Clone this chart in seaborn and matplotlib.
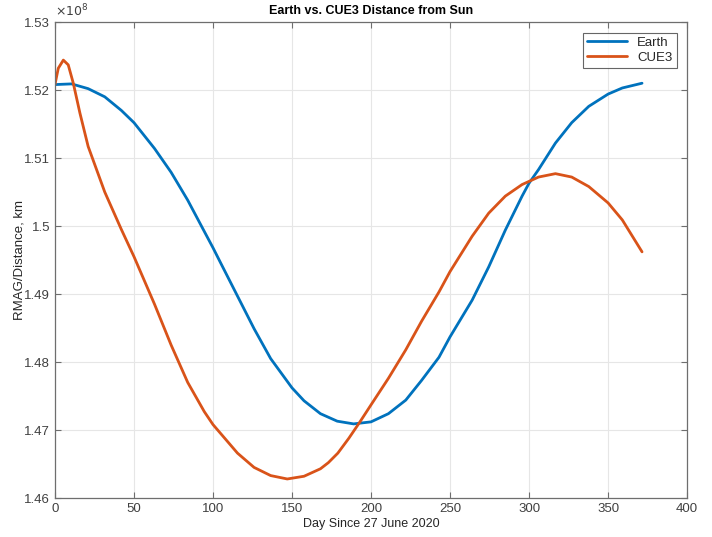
import numpy as np
import pandas as pd
import matplotlib
matplotlib.use("Agg")
import matplotlib.pyplot as plt
import seaborn as sns
from matplotlib.ticker import FuncFormatter

# values (distance in units of 1e8 km)
earth_day = [0, 10.5, 21, 31.5, 42, 50, 63, 73.5, 84, 94.5, 100, 105, 115.5, 126,
             136.5, 150, 157.6, 168, 178.6, 189, 200, 211, 222, 232, 243, 250, 264,
             274.5, 285, 295.6, 300, 306, 316.7, 327, 337.8, 350, 359, 371.5]
earth_dist = [1.5208, 1.5209, 1.5202, 1.5190, 1.5170, 1.5152, 1.5114, 1.5079, 1.5038,
              1.4992, 1.4968, 1.4945, 1.4897, 1.4849, 1.4805, 1.4762, 1.4743, 1.4724,
              1.4713, 1.4709, 1.4712, 1.4724, 1.4744, 1.4773, 1.4807, 1.4837, 1.4891,
              1.4940, 1.4994, 1.5044, 1.5063, 1.5083, 1.5122, 1.5152, 1.5176, 1.5194,
              1.5203, 1.5210]

cue3_day = [0, 2.1, 5.3, 8.4, 11.6, 15.8, 21, 31.5, 42, 50, 63, 73.5, 84, 94.5, 100,
            115.5, 126, 136.5, 147, 157.6, 168, 173, 179, 186, 193, 200, 211, 222, 232,
            243, 250, 264, 274.5, 285, 295.6, 306, 316.7, 327, 337.8, 350, 359, 371.5]
cue3_dist = [1.5208, 1.5232, 1.5244, 1.5237, 1.5210, 1.5166, 1.5117, 1.5050, 1.4995,
             1.4955, 1.4885, 1.4825, 1.4770, 1.4727, 1.4708, 1.4666, 1.4645, 1.4633,
             1.4628, 1.4632, 1.4643, 1.4652, 1.4666, 1.4688, 1.4712, 1.4737, 1.4776,
             1.4818, 1.4860, 1.4903, 1.4933, 1.4985, 1.5019, 1.5044, 1.5061, 1.5072,
             1.5077, 1.5072, 1.5058, 1.5034, 1.5009, 1.4962]

df = pd.concat([
    pd.DataFrame({"day": earth_day, "dist": earth_dist, "body": "Earth"}),
    pd.DataFrame({"day": cue3_day, "dist": cue3_dist, "body": "CUE3"}),
])

sns.set_theme(style="white")
plt.rcParams["font.family"] = ["Liberation Sans", "DejaVu Sans"]

fig = plt.figure(figsize=(7.12, 5.37), dpi=100)
ax = fig.add_axes([0.0772, 0.0726, 0.8878, 0.8864])

sns.lineplot(data=df, x="day", y="dist", hue="body", sort=False, estimator=None,
             palette={"Earth": "#0072BD", "CUE3": "#D95319"}, linewidth=2.0, ax=ax)

ax.set_xlim(0, 400)
ax.set_ylim(1.46, 1.53)
ax.set_xticks(np.arange(0, 401, 50))
ax.set_yticks(np.arange(1.46, 1.5301, 0.01))
ax.yaxis.set_major_formatter(FuncFormatter(lambda v, p: "%g" % round(v, 2)))

ax.grid(True, color="#e6e6e6", linewidth=0.8)
for s in ax.spines.values():
    s.set_color("#6e6e6e")
    s.set_linewidth(0.9)
    s.set_visible(True)
ax.tick_params(direction="in", length=4, width=0.8, color="#6e6e6e",
               labelsize=9.5, labelcolor="#404040", top=True, right=True,
               bottom=True, left=True)

ax.set_xlabel("Day Since 27 June 2020", fontsize=9, color="#262626", labelpad=2)
ax.set_ylabel("RMAG/Distance, km", fontsize=9.5, color="#262626")
ax.yaxis.set_label_coords(-0.047, 0.5)
ax.set_title("Earth vs. CUE3 Distance from Sun", fontsize=9, fontweight="bold",
             color="#000000", pad=6)
ax.text(0.0, 1.005, r"$\times10^{8}$", transform=ax.transAxes, fontsize=9,
        color="#404040", ha="left", va="bottom")

leg = ax.legend(loc="upper right", fontsize=9.5, frameon=True, fancybox=False,
                borderaxespad=0.8, handlelength=3.0, borderpad=0.3,
                labelspacing=0.2)
leg.get_frame().set_edgecolor("#404040")
leg.get_frame().set_linewidth(0.8)
leg.set_title(None)

fig.savefig("out.png", dpi=100)
